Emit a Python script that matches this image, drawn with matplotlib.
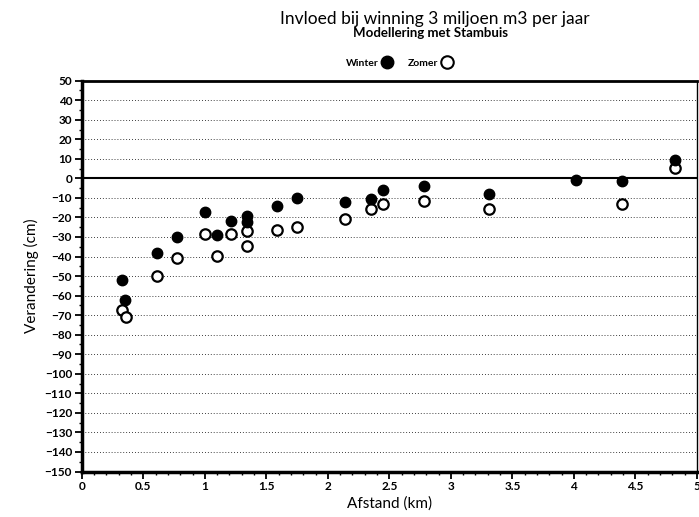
import numpy as np
import matplotlib
matplotlib.use("Agg")
import matplotlib.pyplot as plt
from matplotlib.lines import Line2D
from matplotlib.ticker import MultipleLocator

# afstand (km) per meetpunt
afstand_winter = [0.33, 0.35, 0.61, 0.77, 1.00, 1.10, 1.21, 1.34, 1.34, 1.59, 1.75,
                  2.14, 2.35, 2.45, 2.78, 3.31, 4.02, 4.39, 4.82]
winter = [-52, -62, -38, -30, -17, -29, -22, -19.5, -22.5, -14, -10,
          -12, -10.5, -6, -4, -8, -1, -1.5, 9.5]

afstand_zomer = [0.33, 0.36, 0.61, 0.77, 1.00, 1.10, 1.21, 1.34, 1.34, 1.59, 1.75,
                 2.14, 2.35, 2.45, 2.78, 3.31, 4.39, 4.82]
zomer = [-67.5, -71, -50, -41, -28.5, -39.5, -28.5, -27, -34.5, -26.5, -25,
         -21, -15.5, -13, -11.5, -15.5, -13, 5.5]

plt.rcParams['font.family'] = ['Lato', 'DejaVu Sans']

fig = plt.figure(figsize=(6.99, 5.17), dpi=100)
ax = fig.add_axes([0.117, 0.088, 0.880, 0.756])

# gestippelde hulplijnen
for y in range(40, -150, -10):
    if y == 0:
        continue
    ax.axhline(y, color="black", linestyle=(0, (1, 2.5)), linewidth=0.6, zorder=1)
ax.axhline(0, color="black", linewidth=1.5, zorder=2)

ax.plot(afstand_winter, winter, "o", color="black", markersize=7.5, zorder=4)
ax.plot(afstand_zomer, zomer, "o", markerfacecolor="white", markeredgecolor="black",
        markeredgewidth=1.6, markersize=7.5, zorder=3)

ax.set_xlim(0, 5)
ax.set_ylim(-150, 50)
ax.xaxis.set_minor_locator(MultipleLocator(0.1))
ax.yaxis.set_minor_locator(MultipleLocator(5))
xt = np.arange(0, 5.01, 0.5)
ax.set_xticks(xt)
ax.set_xticklabels([f"{v:g}" for v in xt], fontweight="bold", fontsize=8.5)
yt = np.arange(-150, 51, 10)
ax.set_yticks(yt)
ax.set_yticklabels([f"{v:d}".replace("-", "\u2212") for v in yt], fontweight="bold", fontsize=8.5)
ax.tick_params(which="major", length=5, width=1.3, pad=2)
ax.tick_params(which="minor", length=2.5, width=1)

for side, lw in [("left", 2.5), ("bottom", 2.5), ("top", 2.0), ("right", 1.0)]:
    ax.spines[side].set_linewidth(lw)

ax.set_xlabel("Afstand (km)", fontsize=11, labelpad=3)
ax.set_ylabel("Verandering (cm)", fontsize=11, labelpad=4)

fig.text(0.622, 0.963, "Invloed bij winning 3 miljoen m3 per jaar", ha="center", va="center", fontsize=12.5)
fig.text(0.616, 0.936, "Modellering met Stambuis", ha="center", va="center", fontsize=9.5, fontweight="bold")

handles = [Line2D([], [], marker="o", linestyle="none", color="black", markersize=9),
           Line2D([], [], marker="o", linestyle="none", markerfacecolor="white",
                  markeredgecolor="black", markeredgewidth=1.5, markersize=9)]
fig.legend(handles, ["Winter", "Zomer"], ncol=2, markerfirst=False, frameon=False,
           loc="center", bbox_to_anchor=(0.571, 0.878), prop={"weight": "bold", "size": 7.5},
           handletextpad=0.3, columnspacing=1.5, handlelength=1)

fig.savefig("out.png", dpi=100)
